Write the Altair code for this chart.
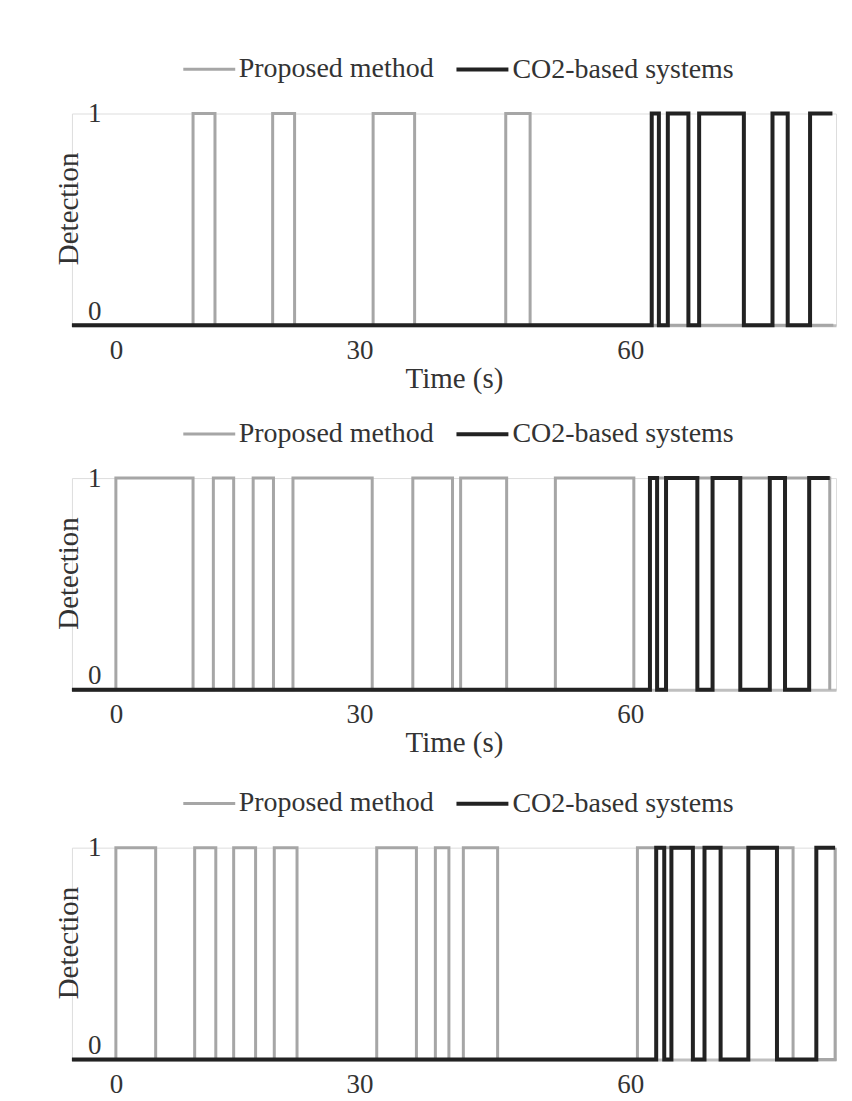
import altair as alt
import pandas as pd

SERIES = ["Proposed method", "CO2-based systems"]
COLORS = ["#a6a6a6", "#222222"]
WIDTHS = [3, 4]

# x scale breakpoints (seconds) of the original axis
X_BREAKS = [-5.3, 0, 30, 60, 83]
X_TICKS = [0, 30, 60]
Y_TICKS = [0, 1]

# Panel 1 (step transition times, level after the transition)
p1_gray_t = [-5.3, 9.5, 12.2, 19.3, 22.0, 31.5, 36.1, 46.2, 48.9, 82.7]
p1_gray_v = [0, 1, 0, 1, 0, 1, 0, 1, 0, 0]
p1_black_t = [-5.3, 62.4, 63.2, 64.2, 66.5, 67.7, 72.7, 75.9, 77.6, 80.1, 82.6]
p1_black_v = [0, 1, 0, 1, 0, 1, 0, 1, 0, 1, 1]

# Panel 2
p2_gray_t = [-5.3, 0.0, 9.5, 12.0, 14.5, 16.9, 19.4, 21.8, 31.4, 35.9, 40.3, 41.2,
             46.3, 51.7, 60.4, 62.2, 82.3]
p2_gray_v = [0, 1, 0, 1, 0, 1, 0, 1, 0, 1, 0, 1, 0, 1, 0, 1, 0]
p2_black_t = [-5.3, 62.2, 63.0, 64.0, 67.5, 69.2, 72.3, 75.6, 77.3, 80.0, 82.3]
p2_black_v = [0, 1, 0, 1, 0, 1, 0, 1, 0, 1, 1]

# Panel 3
p3_gray_t = [-5.3, 0.0, 4.9, 9.7, 12.3, 14.5, 17.2, 19.5, 22.3, 31.9, 36.3, 38.4,
             39.9, 41.5, 45.3, 60.8, 78.2, 82.9]
p3_gray_v = [0, 1, 0, 1, 0, 1, 0, 1, 0, 1, 0, 1, 0, 1, 0, 1, 0, 1]
p3_black_t = [-5.3, 62.9, 63.8, 64.6, 67.0, 68.3, 70.1, 73.2, 76.4, 80.8, 82.9]
p3_black_v = [0, 1, 0, 1, 0, 1, 0, 1, 0, 1, 1]

FONT = "Liberation Serif"
TXT = "#333333"
W, H = 765, 212


def panel(gt, gv, bt, bv, xtitle=True):
    rows = [{"t": t, "v": v, "s": SERIES[0]} for t, v in zip(gt, gv)]
    rows += [{"t": t, "v": v, "s": SERIES[1]} for t, v in zip(bt, bv)]
    df = pd.DataFrame(rows)

    x = alt.X(
        "t:Q",
        scale=alt.Scale(domain=X_BREAKS, range=[0, 44, 288, 559, W], nice=False, zero=False),
        axis=alt.Axis(
            values=X_TICKS, title="Time (s)" if xtitle else None, grid=False,
            ticks=False, domainColor="#bfbfbf", domainWidth=3, format="d",
            labelFont=FONT, labelFontSize=27, labelColor=TXT, labelPadding=12,
            titleFont=FONT, titleFontSize=29, titleFontWeight="normal",
            titleColor=TXT, titlePadding=1, zindex=0,
        ),
    )
    y = alt.Y(
        "v:Q",
        scale=alt.Scale(domain=[0, 1]),
        axis=alt.Axis(
            values=Y_TICKS, title="Detection", grid=False, domain=False, ticks=False,
            offset=-43, format="d", labelFont=FONT, labelFontSize=27, labelColor=TXT,
            labelPadding=14,
            labelBaseline={"condition": {"test": "datum.value == 0", "value": "bottom"},
                           "value": "middle"},
            titleFont=FONT, titleFontSize=29, titleFontWeight="normal",
            titleColor=TXT, titlePadding=4, titleY=95, zindex=0,
        ),
    )
    color = alt.Color(
        "s:N",
        scale=alt.Scale(domain=SERIES, range=COLORS),
        legend=alt.Legend(
            title=None, orient="none", legendX=110, legendY=-72, direction="horizontal",
            symbolType="stroke", symbolSize=2704, symbolStrokeWidth=3.5,
            labelFont=FONT, labelFontSize=28, labelColor=TXT, labelOffset=2,
            columnPadding=14, labelLimit=0, padding=0,
        ),
    )
    sw = alt.StrokeWidth("s:N", scale=alt.Scale(domain=SERIES, range=WIDTHS), legend=None)
    base = alt.Chart(df).mark_line(interpolate="step-after", strokeJoin="miter").encode(
        x=x, y=y, color=color, strokeWidth=sw
    )
    gray = base.transform_filter(alt.datum.s == SERIES[0])
    black = base.transform_filter(alt.datum.s == SERIES[1])
    return alt.layer(gray, black).properties(width=W, height=H)


c1 = panel(p1_gray_t, p1_gray_v, p1_black_t, p1_black_v)
c2 = panel(p2_gray_t, p2_gray_v, p2_black_t, p2_black_v)
c3 = panel(p3_gray_t, p3_gray_v, p3_black_t, p3_black_v, xtitle=False)

top2 = alt.vconcat(c1, c2, spacing=11).resolve_scale(
    color="independent", strokeWidth="independent", x="independent", y="independent"
).resolve_legend(color="independent", strokeWidth="independent")

chart = alt.vconcat(top2, c3, spacing=16).resolve_scale(
    color="independent", strokeWidth="independent", x="independent", y="independent"
).resolve_legend(color="independent", strokeWidth="independent").properties(
    padding={"top": 32, "left": 46, "right": 0, "bottom": 0}
).configure_view(stroke=None).configure(font=FONT)

chart.save("out.html", embed_options={"renderer": "svg", "actions": False})
